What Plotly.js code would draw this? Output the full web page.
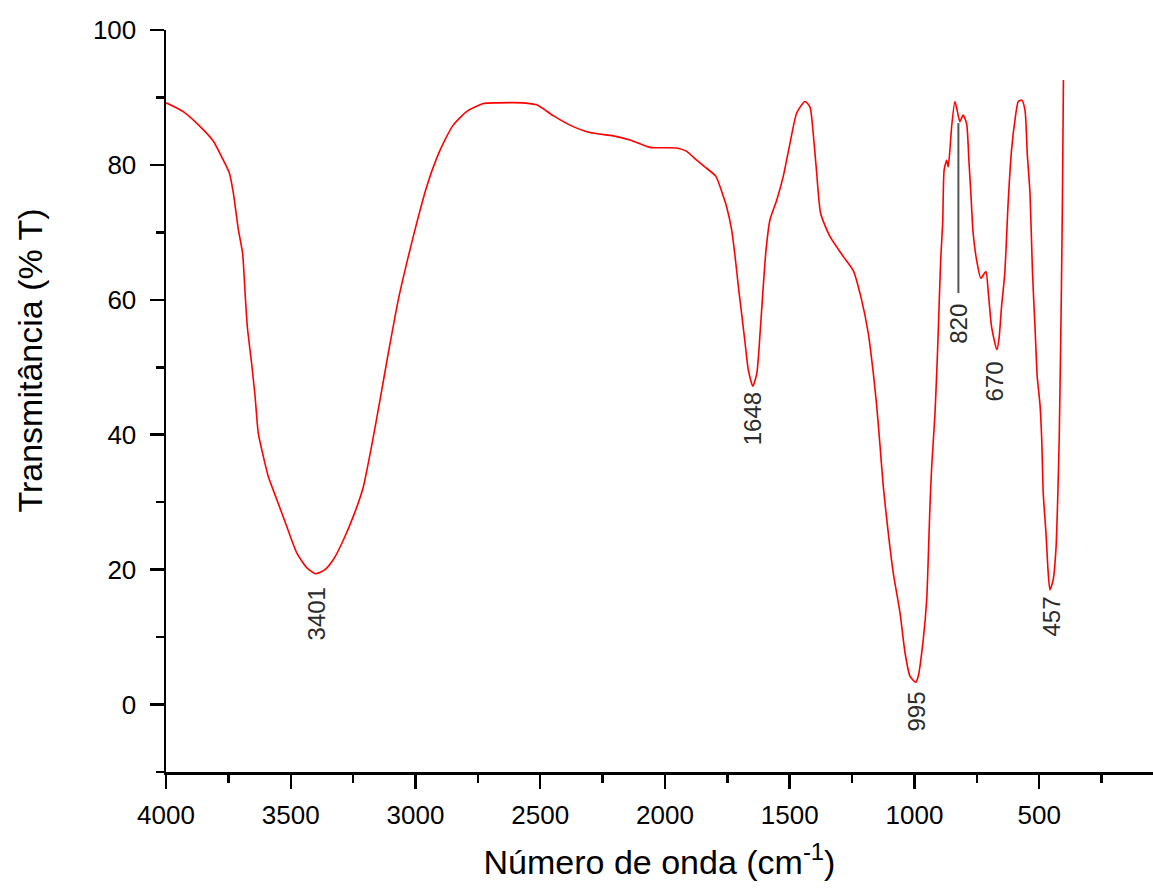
<!DOCTYPE html>
<html>
<head>
<meta charset="utf-8">
<script src="https://cdn.plot.ly/plotly-3.0.1.min.js"></script>
<style>
  html, body { margin: 0; padding: 0; background: #ffffff; }
  #chart { width: 1153px; height: 891px; }
</style>
</head>
<body>
<div id="chart"></div>
<script>
// Wavenumber (cm^-1) and transmittance (% T)
const wavenumber = [
  4000, 3931, 3850, 3810, 3777, 3746, 3730, 3710, 3693, 3683, 3674, 3657, 3643, 3630,
  3610, 3590, 3556, 3516, 3476, 3436, 3401, 3363, 3329, 3289, 3242, 3209, 3176, 3142,
  3109, 3069, 3029, 2995, 2955, 2915, 2882, 2849, 2795, 2728, 2675, 2568, 2514, 2448,
  2381, 2301, 2207, 2140, 2060, 1953, 1913, 1873, 1840, 1796, 1766, 1753, 1733, 1719,
  1706, 1693, 1679, 1666, 1648, 1632, 1619, 1608, 1595, 1579, 1552, 1526, 1499, 1472,
  1439, 1419, 1406, 1392, 1376, 1339, 1285, 1245, 1212, 1185, 1165, 1152, 1139, 1125,
  1105, 1085, 1058, 1038, 1018, 995, 985, 965, 951, 945, 938, 931, 918, 911,
  905, 895, 887, 881, 871, 865, 858, 851, 838, 829, 818, 805, 791, 782,
  774, 765, 751, 734, 714, 704, 691, 670, 661, 651, 638, 624, 611, 597,
  584, 570, 557, 548, 537, 527, 517, 508, 497, 490, 484, 473, 464, 457,
  444, 433, 426, 420, 415, 411, 407, 403
];
const transmittance = [
  89.2, 87.9, 85.2, 83.5, 81.2, 78.8, 75.8, 70.4, 66.9, 61.0, 56.0, 50.6, 45.7, 40.2,
  36.8, 33.8, 30.4, 26.4, 22.5, 20.3, 19.4, 20.0, 21.5, 24.4, 28.6, 32.3, 38.3, 45.2,
  52.1, 60.0, 66.4, 71.4, 76.8, 81.0, 83.7, 85.9, 87.9, 89.1, 89.2, 89.2, 88.9, 87.3,
  85.9, 84.8, 84.3, 83.7, 82.6, 82.5, 82.0, 80.7, 79.7, 78.3, 75.3, 73.8, 70.4, 66.4,
  62.0, 58.0, 53.6, 49.6, 47.2, 49.1, 55.0, 61.0, 67.4, 71.9, 74.8, 78.3, 83.2, 87.7,
  89.4, 88.6, 84.7, 78.8, 72.8, 69.4, 66.4, 64.3, 60.0, 55.0, 49.1, 44.5, 38.8, 32.3,
  25.4, 19.5, 13.6, 7.7, 4.2, 3.3, 4.2, 9.6, 15.6, 21.5, 29.4, 35.3, 43.0, 49.1,
  55.0, 65.9, 71.4, 79.3, 80.7, 79.7, 82.2, 85.7, 89.4, 88.1, 86.4, 87.4, 86.1, 80.7,
  75.8, 69.9, 65.9, 63.2, 64.2, 61.0, 56.0, 52.6, 54.3, 59.0, 64.0, 74.8, 82.2, 86.7,
  89.4, 89.6, 88.1, 81.7, 75.8, 64.0, 56.0, 48.6, 44.5, 39.3, 31.4, 25.4, 19.5, 17.0,
  18.5, 23.0, 30.4, 39.3, 51.1, 62.0, 74.8, 92.6
];

// Peak labels (text, label centre position)
const peakLabels = ["3401", "1648", "995", "457", "670", "820"];
const peakLabelX = [3395, 1651, 993, 450, 681, 824];
const peakLabelY = [13.5, 42.3, -1.0, 13.0, 47.9, 56.5];

// Leader line for the 820 peak
const leaderX = [824, 824];
const leaderY = [61, 86.2];

// Axis ticks
const xTickVals = [4000, 3500, 3000, 2500, 2000, 1500, 1000, 500];
const xTickText = ["4000", "3500", "3000", "2500", "2000", "1500", "1000", "500"];
const yTickVals = [0, 20, 40, 60, 80, 100];
const yTickText = ["0", "20", "40", "60", "80", "100"];

const FONT = "Liberation Sans, Arial, Helvetica, sans-serif";

const traces = [{
  x: wavenumber,
  y: transmittance,
  type: "scatter",
  mode: "lines",
  line: { color: "#ff0000", width: 1.6, shape: "spline", smoothing: 0.6 },
  hoverinfo: "x+y"
}];

const annotations = peakLabels.map((t, i) => ({
  x: peakLabelX[i], y: peakLabelY[i], xref: "x", yref: "y",
  text: t, showarrow: false, textangle: -90,
  xanchor: "center", yanchor: "middle",
  font: { family: FONT, size: 24, color: "#2b2b2b" }
}));

annotations.push({
  xref: "paper", x: 0, xshift: -136,
  yref: "y", y: 51,
  text: "Transmitância (% T)", showarrow: false, textangle: -90,
  xanchor: "center", yanchor: "middle",
  font: { family: FONT, size: 34, color: "#000" }
});

const layout = {
  width: 1153, height: 891,
  margin: { l: 166, r: 0, t: 30, b: 119, pad: 0 },
  paper_bgcolor: "#ffffff", plot_bgcolor: "#ffffff",
  showlegend: false,
  font: { family: FONT, color: "#000" },
  xaxis: {
    range: [4000, 44],
    tickmode: "array", tickvals: xTickVals, ticktext: xTickText,
    ticks: "outside", ticklen: 14, tickwidth: 2.5, tickcolor: "#000",
    showline: true, linewidth: 2.5, linecolor: "#000",
    showgrid: false, zeroline: false,
    tickfont: { family: FONT, size: 26, color: "#000" },
    ticklabelstandoff: 4,
    minor: { dtick: 250, tick0: 0, ticks: "outside", ticklen: 8, tickwidth: 2.5, tickcolor: "#000", showgrid: false },
    title: { text: "Número de onda (cm<sup>-1</sup>)", font: { family: FONT, size: 34, color: "#000" }, standoff: 22 },
    automargin: false
  },
  yaxis: {
    range: [-10, 100],
    tickmode: "array", tickvals: yTickVals, ticktext: yTickText,
    ticks: "outside", ticklen: 14, tickwidth: 2.5, tickcolor: "#000",
    showline: true, linewidth: 2.5, linecolor: "#000",
    showgrid: false, zeroline: false,
    tickfont: { family: FONT, size: 26, color: "#000" },
    ticklabelstandoff: 8,
    minor: { dtick: 10, tick0: 0, ticks: "outside", ticklen: 8, tickwidth: 2.5, tickcolor: "#000", showgrid: false },
    automargin: false
  },
  shapes: [{
    type: "line", xref: "x", yref: "y",
    x0: leaderX[0], x1: leaderX[1], y0: leaderY[0], y1: leaderY[1],
    line: { color: "#555555", width: 2 }
  }],
  annotations: annotations
};

Plotly.newPlot("chart", traces, layout, { displayModeBar: false, staticPlot: true });
</script>
</body>
</html>
